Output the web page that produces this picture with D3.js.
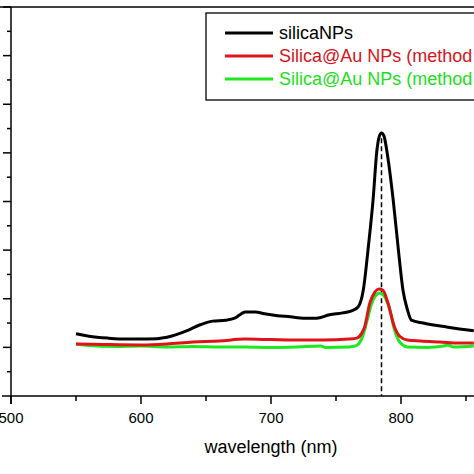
<!DOCTYPE html>
<html>
<head>
<meta charset="utf-8">
<script src="https://cdn.jsdelivr.net/npm/d3@7"></script>
<style>
  html, body { margin: 0; padding: 0; background: #fff; }
  svg { display: block; font-family: "Liberation Sans", Arial, Helvetica, sans-serif; }
</style>
</head>
<body>
<svg id="chart" width="474" height="474"></svg>
<script>
const width = 474;
const height = 474;

// spectra (arbitrary intensity units)
const silicaWl = [550, 560, 575, 590, 605, 620, 635, 645, 655, 665, 672, 676, 680, 688, 695, 705, 715, 725, 735, 745, 755, 762, 767, 771, 775, 778.5, 781.5, 783, 785, 787, 789, 794, 798, 801.5, 805, 808, 817, 825, 835, 845, 856];
const silicaI  = [1.28, 1.23, 1.19, 1.17, 1.17, 1.21, 1.34, 1.46, 1.54, 1.56, 1.60, 1.67, 1.73, 1.73, 1.69, 1.65, 1.63, 1.60, 1.60, 1.67, 1.71, 1.75, 1.83, 2.18, 3.10, 4.03, 5.06, 5.31, 5.41, 5.34, 5.06, 4.03, 3.00, 2.18, 1.77, 1.56, 1.50, 1.46, 1.42, 1.38, 1.34];

const method1Wl = [550, 570, 600, 620, 640, 660, 680, 700, 720, 740, 760, 766, 770, 772, 776, 780, 783, 786, 790, 795, 799, 805, 815, 830, 845, 856];
const method1I  = [1.07, 1.06, 1.05, 1.07, 1.11, 1.13, 1.17, 1.16, 1.15, 1.15, 1.17, 1.19, 1.30, 1.42, 1.91, 2.14, 2.20, 2.18, 1.91, 1.42, 1.23, 1.15, 1.13, 1.11, 1.09, 1.09];

const method2Wl = [550, 560, 580, 600, 620, 640, 660, 680, 700, 720, 738, 742, 760, 765, 770, 774, 777, 781, 784, 787, 791, 795, 799, 805, 820, 833, 836, 840, 856];
const method2I  = [1.07, 1.04, 1.02, 1.03, 1.01, 1.02, 1.01, 1.01, 1.00, 1.01, 1.03, 1.00, 1.01, 1.03, 1.19, 1.56, 1.87, 2.08, 2.12, 2.06, 1.81, 1.36, 1.11, 1.01, 1.00, 1.03, 1.05, 1.01, 1.03];

const seriesNames  = ["silicaNPs", "Silica@Au NPs (method 1)", "Silica@Au NPs (method 2)"];
const seriesColors = ["#000000", "#e01418", "#1ee81e"];
const textColors   = ["#000000", "#d4141c", "#22dd22"];

const xTicks = [500, 600, 700, 800, 900];
const laserLine = 785;
const laserTop = 5.3;

const svg = d3.select("#chart");

const x = d3.scaleLinear().domain([500, 900]).range([11, 531]);
const y = d3.scaleLinear().domain([0, 8]).range([396, 7]);

// frame
svg.append("line")
    .attr("x1", 0).attr("x2", width)
    .attr("y1", y(8)).attr("y2", y(8))
    .attr("stroke", "#000").attr("stroke-width", 1.5);

// bottom axis
const xAxis = svg.append("g").attr("transform", `translate(0,${y(0)})`);
xAxis.append("line").attr("x1", 2).attr("x2", width).attr("stroke", "#000").attr("stroke-width", 1.5);
xAxis.selectAll(".minor")
    .data(d3.range(550, 900, 100))
    .join("line")
    .attr("x1", d => x(d)).attr("x2", d => x(d))
    .attr("y1", 0).attr("y2", 5)
    .attr("stroke", "#000").attr("stroke-width", 1.5);
xAxis.selectAll(".major")
    .data(xTicks)
    .join("line")
    .attr("x1", d => x(d)).attr("x2", d => x(d))
    .attr("y1", 0).attr("y2", 8)
    .attr("stroke", "#000").attr("stroke-width", 1.5);
xAxis.selectAll("text")
    .data(xTicks)
    .join("text")
    .attr("x", d => x(d))
    .attr("y", 27)
    .attr("text-anchor", "middle")
    .attr("font-size", 15)
    .text(d => d);

svg.append("text")
    .attr("x", 271)
    .attr("y", 453)
    .attr("text-anchor", "middle")
    .attr("font-size", 18)
    .text("wavelength (nm)");

// left axis (labels are cut off in the source)
const yAxis = svg.append("g").attr("transform", `translate(${x(500)},0)`);
yAxis.append("line").attr("y1", y(8)).attr("y2", y(0) + 8).attr("stroke", "#000").attr("stroke-width", 1.5);
yAxis.selectAll(".major")
    .data(d3.range(1, 9))
    .join("line")
    .attr("y1", d => y(d)).attr("y2", d => y(d))
    .attr("x1", -8).attr("x2", 0)
    .attr("stroke", "#000").attr("stroke-width", 1.5);
yAxis.selectAll(".minor")
    .data(d3.range(0.5, 8, 1))
    .join("line")
    .attr("y1", d => y(d)).attr("y2", d => y(d))
    .attr("x1", -4).attr("x2", 0)
    .attr("stroke", "#000").attr("stroke-width", 1.5);

// laser line
svg.append("line")
    .attr("x1", x(laserLine)).attr("x2", x(laserLine))
    .attr("y1", y(laserTop)).attr("y2", y(0))
    .attr("stroke", "#000").attr("stroke-width", 1.5)
    .attr("stroke-dasharray", "5,3");

// spectra
const line = d3.line()
    .x(d => x(d[0]))
    .y(d => y(d[1]))
    .curve(d3.curveMonotoneX);

const series = [
    d3.zip(silicaWl, silicaI),
    d3.zip(method1Wl, method1I),
    d3.zip(method2Wl, method2I)
];

// draw green first so red and black sit on top
[2, 1, 0].forEach(i => {
    svg.append("path")
        .datum(series[i])
        .attr("d", line)
        .attr("fill", "none")
        .attr("stroke", seriesColors[i])
        .attr("stroke-width", 3)
        .attr("stroke-linejoin", "round");
});

// legend
const legend = svg.append("g");
legend.append("rect")
    .attr("x", 206).attr("y", 13)
    .attr("width", 320).attr("height", 87)
    .attr("fill", "#fff")
    .attr("stroke", "#000").attr("stroke-width", 1.3);

const rowY = [33, 56, 79];
seriesNames.forEach((name, i) => {
    legend.append("line")
        .attr("x1", 225).attr("x2", 273)
        .attr("y1", rowY[i]).attr("y2", rowY[i])
        .attr("stroke", seriesColors[i]).attr("stroke-width", 3);
    legend.append("text")
        .attr("x", 279).attr("y", rowY[i] + 6)
        .attr("font-size", 18)
        .attr("fill", textColors[i])
        .text(name);
});
</script>
</body>
</html>
